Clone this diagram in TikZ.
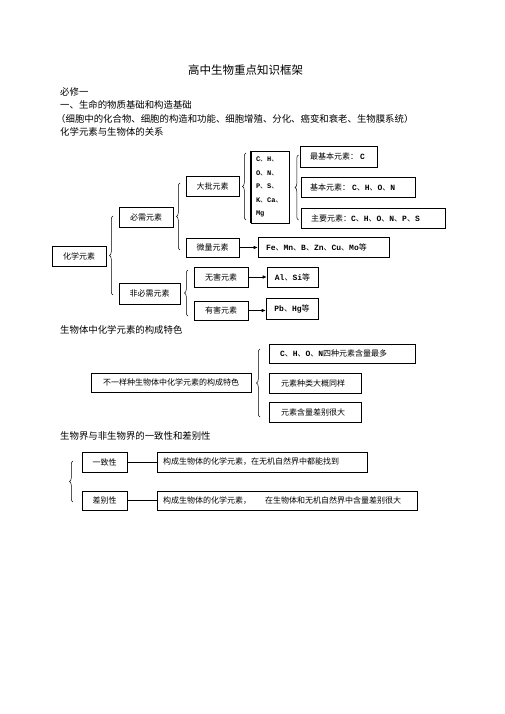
\documentclass[tikz,border=0pt]{standalone}
\usepackage{fontspec}
\setmainfont{Noto Sans CJK SC}
\newfontfamily\lmono{Liberation Mono}
\usetikzlibrary{decorations.pathreplacing,arrows.meta}
\newcommand\el[1]{{\lmono\bfseries #1}}
\begin{document}
\begin{tikzpicture}[x=1pt,y=-1pt,
 box/.style={draw, line width=0.6pt, inner sep=0pt, font=\fontsize{8}{10}\selectfont},
 lbox/.style 2 args={box, align=left, inner xsep=#1pt, text width=#2pt},
 head/.style={anchor=west, inner sep=0pt, font=\fontsize{9.4}{11}\selectfont},
 brc/.style={decorate, decoration={brace, amplitude=3.5pt}, line width=0.5pt},
 arr/.style={-{Latex[length=4pt,width=3.5pt]}, line width=0.6pt}]
\path[use as bounding box, fill=white] (0,0) rectangle (505,714);

% headings
\node[inner sep=0pt, font=\fontsize{11.5}{13}\selectfont] (title) at (245.5,70) {高中生物重点知识框架};
\node[head] (h1) at (60,92) {必修一};
\node[head] (h2) at (60,105) {一、生命的物质基础和构造基础};
\node[head] (h3) at (56,119) {（细胞中的化合物、细胞的构造和功能、细胞增殖、分化、癌变和衰老、生物膜系统）};
\node[head] (h4) at (60,132) {化学元素与生物体的关系};
\node[head] (h5) at (60,330) {生物体中化学元素的构成特色};
\node[head] (h6) at (60,436) {生物界与非生物界的一致性和差别性};

% first diagram
\node[box, minimum width=54pt, minimum height=20pt] (hx) at (79,256) {化学元素};
\node[box, minimum width=54pt, minimum height=20pt] (bx) at (146,217) {必需元素};
\node[box, minimum width=61pt, minimum height=21pt] (fbx) at (149.5,293.5) {非必需元素};
\node[box, minimum width=53pt, minimum height=20pt] (dl) at (212.5,186) {大批元素};
\node[box, minimum width=53pt, minimum height=19pt] (wl) at (212.5,247.5) {微量元素};
\node[box, minimum width=54pt, minimum height=20pt] (wh) at (221,277) {无害元素};
\node[box, minimum width=54pt, minimum height=19pt] (yh) at (221,310.5) {有害元素};
\node[lbox={5}{28}, minimum height=72pt, font=\fontsize{7}{13.5}\selectfont] (cho) at (270,187)
  {\el{C}、\el{H}、\\\el{O}、\el{N}、\\\el{P}、\el{S}、\\\el{K}、\el{Ca}、\\\el{Mg}};
\draw[line width=1.5pt] (cho.north west) -- (cho.south west);
\node[lbox={10}{57}, minimum height=21pt] (zjb) at (338.5,156.5) {最基本元素：\kern2pt\el{C}};
\node[lbox={9}{96}, minimum height=20pt] (jb) at (358,187) {基本元素：\kern2pt\el{C}、\el{H}、\el{O}、\el{N}};
\node[lbox={10}{124}, minimum height=20pt] (zy) at (373,218) {主要元素：\el{C}、\el{H}、\el{O}、\el{N}、\el{P}、\el{S}};
\node[lbox={8}{115}, minimum height=20pt] (fe) at (323.5,247) {\el{Fe}、\el{Mn}、\el{B}、\el{Zn}、\el{Cu}、\el{Mo}等};
\node[box, minimum width=51pt, minimum height=20pt] (al) at (292.5,277) {\el{Al}、\el{Si}等};
\node[box, minimum width=52pt, minimum height=21pt] (pb) at (292,308.5) {\el{Pb}、\el{Hg}等};

\draw[brc] (113,295) -- (113,216);
\draw[brc] (180,250) -- (180,183);
\draw[brc] (188,316) -- (188,270);
\draw[brc] (246,220) -- (246,153);
\draw[brc] (298.5,220) -- (298.5,155);

\draw[arr] (wl.east) -- (wl.east -| fe.west);
\draw[arr] (wh.east) -- (wh.east -| al.west);
\draw[arr] (yh.east) -- (yh.east -| pb.west);

% second diagram
\node[box, minimum width=160pt, minimum height=19pt] (byz) at (171,382.5) {不一样种生物体中化学元素的构成特色};
\node[lbox={11}{124}, minimum height=19pt] (c1) at (342,353.5) {\el{C}、\el{H}、\el{O}、\el{N}四种元素含量最多};
\node[lbox={12}{68}, minimum height=20pt] (c2) at (315,383) {元素种类大概同样};
\node[lbox={12}{68}, minimum height=20pt] (c3) at (315,412) {元素含量差别很大};
\draw[brc] (260,417) -- (260,349);

% third diagram
\node[box, minimum width=45pt, minimum height=20pt] (yz) at (104.5,462) {一致性};
\node[box, minimum width=45pt, minimum height=19pt] (cb) at (104.5,500.5) {差别性};
\node[lbox={6}{198}, minimum height=20pt] (ya) at (262,462) {构成生物体的化学元素，在无机自然界中都能找到};
\node[lbox={6}{248}, minimum height=19pt] (yb) at (287,500.5) {构成生物体的化学元素，\kern14pt 在生物体和无机自然界中含量差别很大};
\draw[brc] (73,502) -- (73,461);
\draw[line width=1pt] (yz.east) -- (yz.east -| ya.west);
\draw[line width=0.6pt] (cb.east) -- (cb.east -| yb.west);
\end{tikzpicture}
\end{document}
